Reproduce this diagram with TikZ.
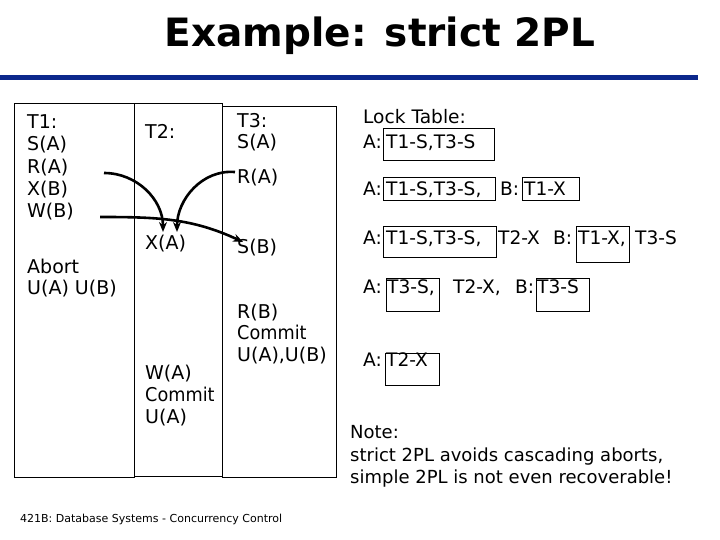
\documentclass[tikz,border=0pt]{standalone}
\usepackage{fontspec}
\setmainfont{DejaVu Sans}
\usepackage{tikz}
\usetikzlibrary{positioning}
\usetikzlibrary{arrows.meta}
\definecolor{slideblue}{RGB}{12,40,140}
\newcommand{\narrow}[1]{\scalebox{0.93}[1]{#1}}
\tikzset{
  op/.style={anchor=base west,inner sep=0pt,font=\fontsize{19}{22}\selectfont},
  lock/.style={anchor=base west,inner sep=0pt,font=\fontsize{18.6}{22}\selectfont},
  held/.style={draw,line width=0.8pt},
  flow/.style={->,line width=2.6pt}
}

\begin{document}
\begin{tikzpicture}[x=1pt,y=-1pt,>={Stealth[length=10pt,width=8pt]}]
  \useasboundingbox (0,0) rectangle (720,540);
  % title and rule
  \node[inner sep=0pt,font=\fontsize{39}{40}\bfseries] (title) at (380,36) {Example: strict 2PL};
  \draw[slideblue,line width=5pt] (0,78) -- (698,78);
  % transaction columns
  \draw[line width=0.8pt] (14,103) rectangle (134,477);
  \draw[line width=0.8pt] (134,103) rectangle (222,476);
  \draw[line width=0.8pt] (222,106) rectangle (336,477);
  % T1
  \node[op] (t1) at (27,129) {T1:};
  \node[op] (t1sa) at (27,151) {S(A)};
  \node[op] (t1ra) at (27,174) {R(A)};
  \node[op] (t1xb) at (27,196) {X(B)};
  \node[op] (t1wb) at (27,218) {W(B)};
  \node[op] (t1ab) at (27,273) {Abort};
  \node[op] (t1u) at (27,294) {U(A) U(B)};
  % T2
  \node[op] (t2) at (145,139) {T2:};
  \node[op] (t2xa) at (145,249) {X(A)};
  \node[op] (t2wa) at (145,379) {W(A)};
  \node[op] (t2c) at (145,401) {\narrow{Commit}};
  \node[op] (t2u) at (145,423) {U(A)};
  % T3
  \node[op] (t3) at (237,128) {T3:};
  \node[op] (t3sa) at (237,149) {S(A)};
  \node[op] (t3ra) at (237,184) {R(A)};
  \node[op] (t3sb) at (237,253) {S(B)};
  \node[op] (t3rb) at (237,318) {R(B)};
  \node[op] (t3c) at (237,339) {\narrow{Commit}};
  \node[op] (t3u) at (237,361) {U(A),U(B)};
  % lock table
  \node[lock] (lt) at (363,124) {Lock Table:};
  \node[lock] (l1a) at (363,149) {A:};
  \node[lock] (l1b) at (386,149) {T1-S,T3-S};
  \node[lock] (l2a) at (363,196) {A:};
  \node[lock] (l2b) at (386,196) {T1-S,T3-S,};
  \node[lock] (l2c) at (500,196) {B:};
  \node[lock] (l2d) at (524,196) {T1-X};
  \node[lock] (l3a) at (363,244) {A:};
  \node[lock] (l3b) at (386,244) {T1-S,T3-S,};
  \node[lock] (l3c) at (498,244) {T2-X};
  \node[lock] (l3d) at (553,244) {B:};
  \node[lock] (l3e) at (578,244) {T1-X,};
  \node[lock] (l3f) at (635,244) {T3-S};
  \node[lock] (l4a) at (363,293) {A:};
  \node[lock] (l4b) at (387,293) {T3-S,};
  \node[lock] (l4c) at (453,293) {T2-X,};
  \node[lock] (l4d) at (515,293) {B:};
  \node[lock] (l4e) at (537,293) {T3-S};
  \node[lock] (l5a) at (363,366) {A:};
  \node[lock] (l5b) at (386,366) {T2-X};
  % locks held at each step
  \draw[held] (383,128) rectangle (494,160);
  \draw[held] (383,177) rectangle (495,200);
  \draw[held] (522,177) rectangle (579,200);
  \draw[held] (383,226) rectangle (496,257);
  \draw[held] (576,226) rectangle (629,262);
  \draw[held] (386,278) rectangle (439,311);
  \draw[held] (536,278) rectangle (589,311);
  \draw[held] (385,353) rectangle (439,385);
  % note
  \node[lock,font=\fontsize{18}{22}\selectfont] (note) at (350,438) {Note:};
  \node[lock,font=\fontsize{18}{22}\selectfont] (n1) at (350,461) {strict 2PL avoids cascading aborts,};
  \node[lock,font=\fontsize{18}{22}\selectfont] (n2) at (350,483) {simple 2PL is not even recoverable!};
  % footer
  \node[anchor=base west,inner sep=0pt,font=\fontsize{11}{12}\selectfont] (foot) at (20,522) {421B: Database Systems - Concurrency Control};
  % waits
  \coordinate (fromA) at (104,173);
  \coordinate (fromB) at (100,217);
  \coordinate (toXa) at (163,232);
  \coordinate (toXb) at (177,232);
  \coordinate (toS) at (243,242);
  \draw[flow] (fromA) to[out=0,in=90] (toXa);
  \draw[flow] (t3ra.west) ++(-2,-6) coordinate (fromR) to[out=175,in=90] (toXb);
  \draw[flow] (fromB) to[out=0,in=155] (toS);
\end{tikzpicture}
\end{document}
